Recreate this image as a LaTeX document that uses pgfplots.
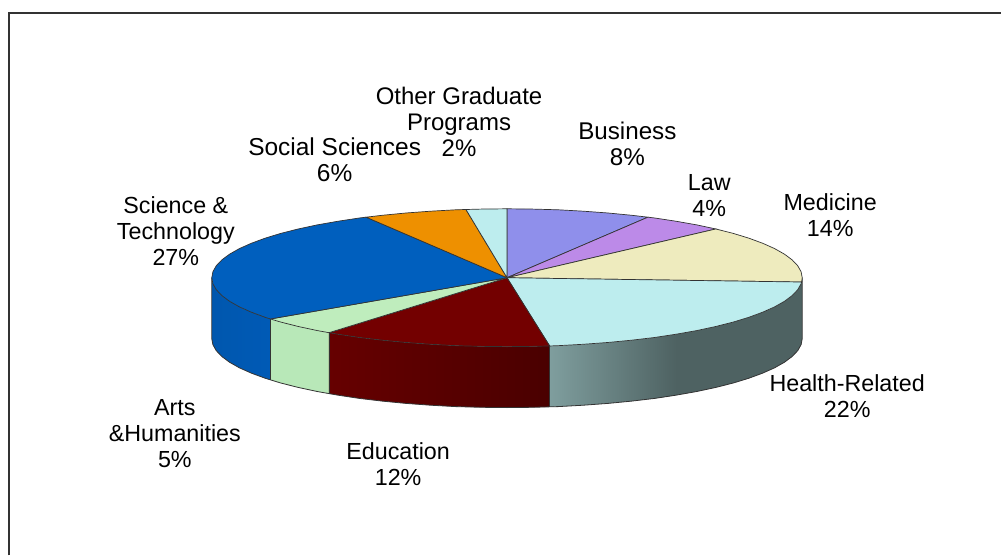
\documentclass[border=0pt]{standalone}
\usepackage{pgfplots}
\pgfplotsset{compat=1.18}
\usepackage{fontspec}
\setmainfont{Liberation Sans}
\definecolor{cBus}{HTML}{8F8FEB}
\definecolor{cLaw}{HTML}{BC8AE8}
\definecolor{cMed}{HTML}{EEEBBE}
\definecolor{cHea}{HTML}{BDEDEE}
\definecolor{cEdu}{HTML}{730000}
\definecolor{cArt}{HTML}{BFEDBD}
\definecolor{cSci}{HTML}{005FBE}
\definecolor{cSoc}{HTML}{EE9000}
\definecolor{cOth}{HTML}{BDEDEE}
\definecolor{edge}{HTML}{333333}
\definecolor{wHeaL}{HTML}{7F9E9E}
\definecolor{wHeaR}{HTML}{4E6262}
\definecolor{wEduL}{HTML}{660000}
\definecolor{wEduR}{HTML}{4A0000}
\definecolor{wArt}{HTML}{B8E8B8}
\definecolor{wSciL}{HTML}{0057AE}
\definecolor{wSciR}{HTML}{005AB6}
\tikzset{lab/.style={align=center,font=\fontsize{#1}{26}\selectfont,text=black,inner sep=0pt},lab/.default=23.3}
\begin{document}
\begin{tikzpicture}
\begin{axis}[
  at={(0,0)},anchor=south west,scale only axis,width=1002pt,height=556pt,
  xmin=0,xmax=1002,ymin=0,ymax=556,y dir=reverse,hide axis,clip=false]
% page extent
\addplot[fill=white,draw=none,mark=none] coordinates {(0,0)(1002,0)(1002,556)(0,556)} --cycle;
% frame
\addplot[color=edge,line width=2pt,mark=none] coordinates {(9,556) (9,13) (1002,13)};
% walls
\addplot[shade,left color=wSciL,right color=wSciR,draw=none,mark=none] coordinates {
(212.0,278.0)(213.1,284.0)(216.5,290.0)(222.1,295.9)(229.8,301.6)(239.7,307.2)(251.6,312.5)(265.4,317.6)(270.7,319.3)
(270.7,380.3)(265.4,378.6)(251.6,373.5)(239.7,368.2)(229.8,362.6)(222.1,356.9)(216.5,351.0)(213.1,345.0)(212.0,339.0)} --cycle;
\addplot[fill=wArt,draw=none,mark=none] coordinates {
(270.7,319.3)(281.1,322.4)(298.5,326.8)(317.6,330.9)(329.3,333.0)
(329.3,394.0)(317.6,391.9)(298.5,387.8)(281.1,383.4)(270.7,380.3)} --cycle;
\addplot[shade,left color=wEduL,right color=wEduR,draw=none,mark=none] coordinates {
(329.3,333.0)(338.0,334.5)(359.7,337.8)(382.6,340.5)(406.4,342.8)(431.0,344.6)(456.2,346.0)(481.7,346.7)(507.5,347.0)(533.3,346.7)(550.2,346.3)
(550.2,407.3)(533.3,407.7)(507.5,408.0)(481.7,407.7)(456.2,407.0)(431.0,405.6)(406.4,403.8)(382.6,401.5)(359.7,398.8)(338.0,395.5)(329.3,394.0)} --cycle;
\addplot[fill=wHeaR,draw=none,mark=none] coordinates {
(655.3,337.8)(677.0,334.5)(697.4,330.9)(716.5,326.8)(733.9,322.4)(749.6,317.6)(763.4,312.5)(775.3,307.2)(785.2,301.6)(792.9,295.9)(798.5,290.0)(801.9,284.0)(803.0,278.0)
(803.0,339.0)(801.9,345.0)(798.5,351.0)(792.9,356.9)(785.2,362.6)(775.3,368.2)(763.4,373.5)(749.6,378.6)(733.9,383.4)(716.5,387.8)(697.4,391.9)(677.0,395.5)(655.3,398.8)} --cycle;
\addplot[shade,left color=wHeaL,right color=wHeaR,draw=none,mark=none] coordinates {
(550.2,346.3)(558.8,346.0)(584.0,344.6)(608.6,342.8)(632.4,340.5)(655.3,337.8)(677.0,334.5)
(677.0,395.5)(655.3,398.8)(632.4,401.5)(608.6,403.8)(584.0,405.6)(558.8,407.0)(550.2,407.3)} --cycle;
% wall outline
\addplot[color=edge,line width=.8pt,mark=none] coordinates {
(212.0,278.0)(212.0,339.0)(213.1,345.0)(216.5,351.0)(222.1,356.9)(229.8,362.6)(239.7,368.2)(251.6,373.5)(265.4,378.6)(281.1,383.4)(298.5,387.8)(317.6,391.9)(338.0,395.5)(359.7,398.8)(382.6,401.5)(406.4,403.8)(431.0,405.6)(456.2,407.0)(481.7,407.7)(507.5,408.0)(533.3,407.7)(558.8,407.0)(584.0,405.6)(608.6,403.8)(632.4,401.5)(655.3,398.8)(677.0,395.5)(697.4,391.9)(716.5,387.8)(733.9,383.4)(749.6,378.6)(763.4,373.5)(775.3,368.2)(785.2,362.6)(792.9,356.9)(798.5,351.0)(801.9,345.0)(803.0,339.0)(803.0,278.0)};
\addplot[color=edge,line width=.8pt,mark=none] coordinates {(270.7,319.3)(270.7,380.3)};
\addplot[color=edge,line width=.8pt,mark=none] coordinates {(329.3,333.0)(329.3,394.0)};
\addplot[color=edge,line width=.8pt,mark=none] coordinates {(550.2,346.3)(550.2,407.3)};
% top faces
\addplot[fill=cBus,draw=edge,line width=.7pt,mark=none] coordinates {
(507.5,278)(507.5,209.0)(533.3,209.3)(558.8,210.0)(584.0,211.4)(608.6,213.2)(632.4,215.5)(648.5,217.4)} --cycle;
\addplot[fill=cLaw,draw=edge,line width=.7pt,mark=none] coordinates {
(507.5,278)(648.5,217.4)(655.3,218.2)(677.0,221.5)(697.4,225.1)(716.5,229.2)} --cycle;
\addplot[fill=cMed,draw=edge,line width=.7pt,mark=none] coordinates {
(507.5,278)(716.5,229.2)(733.9,233.6)(749.6,238.4)(763.4,243.5)(775.3,248.8)(785.2,254.4)(792.9,260.1)(798.5,266.0)(801.9,272.0)(803.0,278.0)(802.4,282.3)} --cycle;
\addplot[fill=cHea,draw=edge,line width=.7pt,mark=none] coordinates {
(507.5,278)(802.4,282.3)(801.9,284.0)(798.5,290.0)(792.9,295.9)(785.2,301.6)(775.3,307.2)(763.4,312.5)(749.6,317.6)(733.9,322.4)(716.5,326.8)(697.4,330.9)(677.0,334.5)(655.3,337.8)(632.4,340.5)(608.6,342.8)(584.0,344.6)(558.8,346.0)(550.2,346.3)} --cycle;
\addplot[fill=cEdu,draw=edge,line width=.7pt,mark=none] coordinates {
(507.5,278)(550.2,346.3)(533.3,346.7)(507.5,347.0)(481.7,346.7)(456.2,346.0)(431.0,344.6)(406.4,342.8)(382.6,340.5)(359.7,337.8)(338.0,334.5)(329.3,333.0)} --cycle;
\addplot[fill=cArt,draw=edge,line width=.7pt,mark=none] coordinates {
(507.5,278)(329.3,333.0)(317.6,330.9)(298.5,326.8)(281.1,322.4)(270.7,319.3)} --cycle;
\addplot[fill=cSci,draw=edge,line width=.7pt,mark=none] coordinates {
(507.5,278)(270.7,319.3)(265.4,317.6)(251.6,312.5)(239.7,307.2)(229.8,301.6)(222.1,295.9)(216.5,290.0)(213.1,284.0)(212.0,278.0)(213.1,272.0)(216.5,266.0)(222.1,260.1)(229.8,254.4)(239.7,248.8)(251.6,243.5)(265.4,238.4)(281.1,233.6)(298.5,229.2)(317.6,225.1)(338.0,221.5)(359.7,218.2)(366.5,217.4)} --cycle;
\addplot[fill=cSoc,draw=edge,line width=.7pt,mark=none] coordinates {
(507.5,278)(366.5,217.4)(382.6,215.5)(406.4,213.2)(431.0,211.4)(456.2,210.0)(466.4,209.7)} --cycle;
\addplot[fill=cOth,draw=edge,line width=.7pt,mark=none] coordinates {
(507.5,278)(466.4,209.7)(481.7,209.3)(507.5,209.0)} --cycle;
% labels
\node[lab=24] at (axis cs:459.5,122) {Other Graduate\\Programs\\2\%};
\node[lab=24.5] at (axis cs:335,160) {Social Sciences\\6\%};
\node[lab=24.2] at (axis cs:628,144) {Business\\8\%};
\node[lab] at (axis cs:710,196) {Law\\4\%};
\node[lab] at (axis cs:831,215) {Medicine\\14\%};
\node[lab] at (axis cs:176,231) {Science \&\\Technology\\27\%};
\node[lab] at (axis cs:848,397) {Health-Related\\22\%};
\node[lab] at (axis cs:398.5,465) {Education\\12\%};
\node[lab] at (axis cs:175,434) {Arts\\\&Humanities\\5\%};
\end{axis}
\end{tikzpicture}
\end{document}
